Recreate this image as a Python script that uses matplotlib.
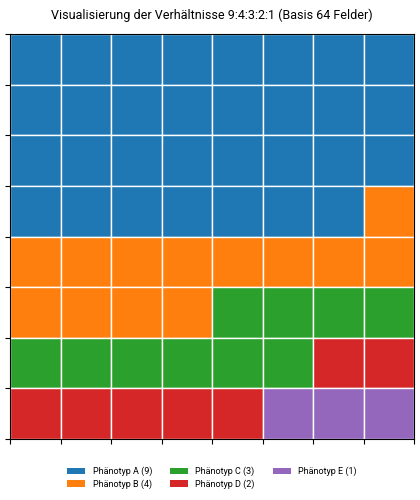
import matplotlib
matplotlib.use('Agg')
from matplotlib import pyplot as plt
from matplotlib.patches import Patch

plt.rcParams['font.family'] = ['Roboto', 'DejaVu Sans']

# phenotype labels, cell counts (of 64) and colours
labels = ['Phänotyp A (9)', 'Phänotyp B (4)', 'Phänotyp C (3)', 'Phänotyp D (2)', 'Phänotyp E (1)']
counts = [31, 13, 10, 7, 3]
colors = ['#1f77b4', '#ff7f0e', '#2ca02c', '#d62728', '#9467bd']
n_side = 8

fig = plt.figure(figsize=(4.2, 5), dpi=100)
ax = fig.add_axes([0.024, 0.122, 0.962, 0.81])

# fill the grid row by row from the top left
cells = []
for c, n in zip(colors, counts):
    cells += [c] * n
for i, c in enumerate(cells):
    row = i // n_side
    col = i % n_side
    ax.bar(col, 1, bottom=n_side - 1 - row, width=1, align='edge',
           color=c, edgecolor='white', linewidth=1)

ax.set_xlim(0, n_side)
ax.set_ylim(0, n_side)
ax.set_xticks(range(n_side + 1))
ax.set_yticks(range(n_side + 1))
ax.set_xticklabels([])
ax.set_yticklabels([])
ax.set_title('Visualisierung der Verhältnisse 9:4:3:2:1 (Basis 64 Felder)', fontsize=9, pad=11)

handles = [Patch(facecolor=c, label=l) for c, l in zip(colors, labels)]
ax.legend(handles=handles, ncol=3, frameon=False, fontsize=6.5,
          loc='upper center', bbox_to_anchor=(0.5, -0.048),
          columnspacing=2.0, labelspacing=0.35)

fig.savefig('out.png', dpi=100)
